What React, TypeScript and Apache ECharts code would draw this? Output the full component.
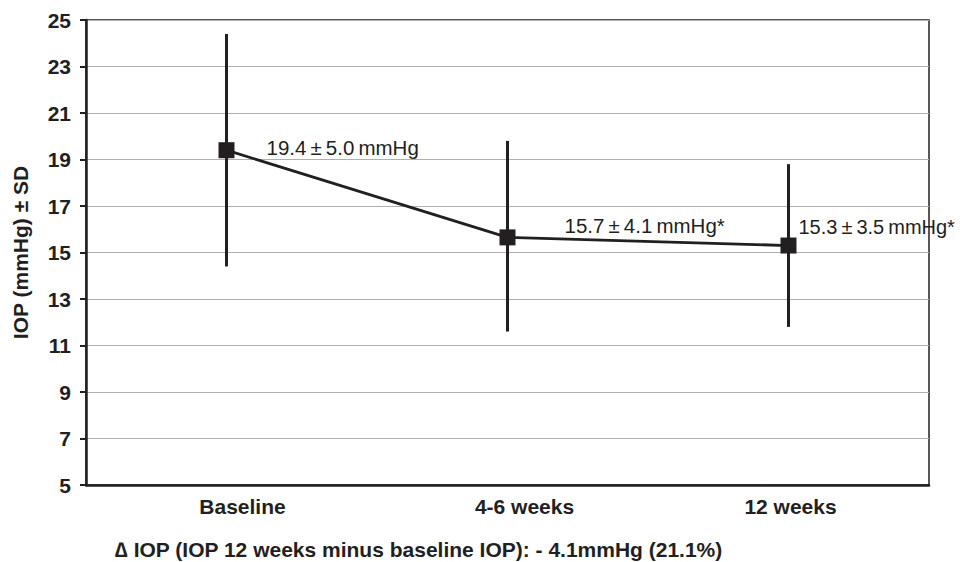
import React, { useEffect, useRef } from "react";
import * as echarts from "echarts";

const categories = ["Baseline", "4-6 weeks", "12 weeks"];
const meanValues = [19.4, 15.65, 15.3];
const lowValues = [14.4, 11.6, 11.8];
const highValues = [24.4, 19.8, 18.8];
const pointLabels = [
  "19.4\u2009±\u20095.0\u2009mmHg",
  "15.7\u2009±\u20094.1\u2009mmHg*",
  "15.3\u2009±\u20093.5\u2009mmHg*",
];
const yTicks = [5, 7, 9, 11, 13, 15, 17, 19, 21, 23, 25];
const yTitle = "IOP (mmHg) ± SD";
const footNote = "\u2206 IOP (IOP 12 weeks minus baseline IOP): - 4.1mmHg (21.1%)";

const INK = "#231f20";
const FONT = "Liberation Sans, Arial, Helvetica, sans-serif";

export default function App() {
  const ref = useRef<HTMLDivElement>(null);
  useEffect(() => {
    if (!ref.current) return;
    const chart = echarts.init(ref.current, null, { renderer: "svg" });
    const labelOffsets = [
      [27, -3],
      [44, -12],
      [-3, -19],
    ];
    const labelSizes = [20.5, 20.5, 20];
    const catPads = [32, 34, 4];
    chart.setOption({
      animation: false,
      backgroundColor: "#fff",
      textStyle: { fontFamily: FONT },
      grid: {
        left: 86,
        top: 20,
        right: 31,
        bottom: 77,
        show: true,
        borderColor: INK,
        borderWidth: 1.5,
        backgroundColor: "transparent",
      },
      xAxis: {
        type: "category",
        data: categories.map((c, i) => ({
          value: c,
          textStyle: { padding: [0, 0, 0, catPads[i]] },
        })),
        boundaryGap: true,
        axisLine: { show: true, lineStyle: { color: INK, width: 2.5 } },
        axisTick: { show: false },
        axisLabel: {
          color: INK,
          fontSize: 21,
          fontWeight: "bold",
          fontFamily: FONT,
          margin: 11,
        },
        splitLine: { show: false },
      },
      yAxis: {
        type: "value",
        min: yTicks[0],
        max: yTicks[yTicks.length - 1],
        interval: 2,
        name: yTitle,
        nameLocation: "middle",
        nameGap: 55,
        nameRotate: 90,
        nameTextStyle: {
          color: INK,
          fontSize: 21,
          fontWeight: "bold",
          fontFamily: FONT,
        },
        axisLine: { show: true, lineStyle: { color: INK, width: 2.5 } },
        axisTick: { show: true, length: 6, lineStyle: { color: INK, width: 2 } },
        axisLabel: {
          color: INK,
          fontSize: 21,
          fontWeight: "bold",
          fontFamily: FONT,
          margin: 15,
        },
        splitLine: { show: true, lineStyle: { color: "#b0b0b0", width: 1.2 } },
      },
      series: [
        {
          type: "custom",
          z: 3,
          data: categories.map((_, i) => [i, lowValues[i], highValues[i]]),
          renderItem: (params: any, api: any) => {
            const x = api.value(0);
            const lo = api.coord([x, api.value(1)]);
            const hi = api.coord([x, api.value(2)]);
            return {
              type: "line",
              shape: { x1: lo[0], y1: lo[1], x2: hi[0], y2: hi[1] },
              style: { stroke: INK, lineWidth: 3 },
            };
          },
          encode: { x: 0, y: [1, 2] },
        },
        {
          type: "line",
          z: 4,
          data: meanValues.map((v, i) => ({
            value: v,
            label: {
              show: true,
              position: "right",
              distance: 5,
              offset: labelOffsets[i],
              formatter: pointLabels[i],
              color: INK,
              fontSize: labelSizes[i],
              fontFamily: FONT,
            },
          })),
          symbol: "rect",
          symbolSize: 16,
          showSymbol: true,
          itemStyle: { color: INK },
          lineStyle: { color: INK, width: 2.8 },
        },
      ],
      graphic: [
        {
          type: "text",
          left: 115,
          top: 539,
          style: {
            text: footNote,
            fill: INK,
            fontSize: 21,
            fontWeight: "bold",
            fontFamily: FONT,
          },
        },
      ],
    });
    return () => chart.dispose();
  }, []);
  return (
    <div
      ref={ref}
      style={{ position: "absolute", left: 0, top: 0, width: 960, height: 562 }}
    />
  );
}
